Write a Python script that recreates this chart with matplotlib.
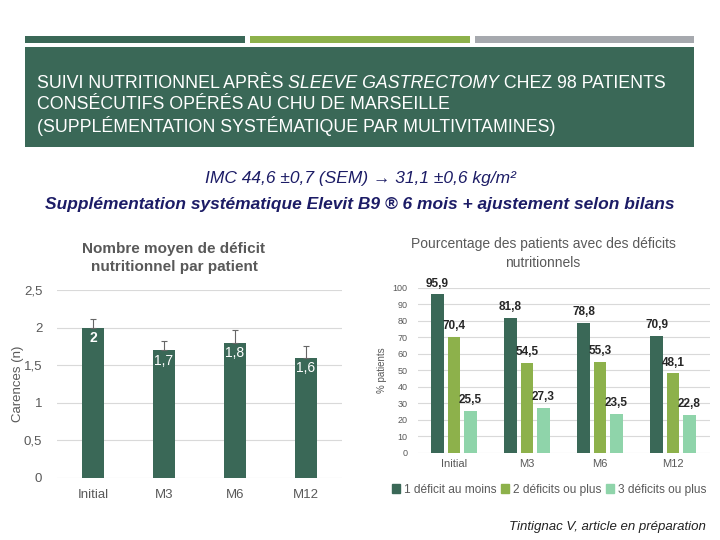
import matplotlib.pyplot as plt
from matplotlib.patches import Rectangle

plt.rcParams['font.family'] = ['Liberation Sans', 'DejaVu Sans']

# data
periods = ['Initial', 'M3', 'M6', 'M12']
mean_deficits = [2.0, 1.7, 1.8, 1.6]
mean_labels = ['2', '1,7', '1,8', '1,6']
mean_err_up = [0.12, 0.12, 0.17, 0.15]

series_names = ['1 déficit au moins', '2 déficits ou plus', '3 déficits ou plus']
pct_1 = [95.9, 81.8, 78.8, 70.9]
pct_2 = [70.4, 54.5, 55.3, 48.1]
pct_3 = [25.5, 27.3, 23.5, 22.8]

DARK = '#3a6857'
GREEN = '#8db14b'
MINT = '#8fd4aa'
GREY_BAR = '#a6a9ae'
NAVY = '#1c1c66'
TXT = '#595959'

fig = plt.figure(figsize=(7.2, 5.4), dpi=100)
W, H = 720, 540


def px_box(x0, y0, x1, y1):
    # pixel box (top-left origin) -> figure fraction rect
    return [x0 / W, 1 - y1 / H, (x1 - x0) / W, (y1 - y0) / H]


# top decorative strips and header box
bg = fig.add_axes([0, 0, 1, 1])
bg.set_xlim(0, W)
bg.set_ylim(H, 0)
bg.axis('off')
for x0, x1, c in [(25, 245, DARK), (250, 470, GREEN), (475, 694, GREY_BAR)]:
    bg.add_patch(Rectangle((x0, 36), x1 - x0, 7, color=c, lw=0))
bg.add_patch(Rectangle((25, 47), 669, 100, color=DARK, lw=0))

header_lines = [
    [('SUIVI NUTRITIONNEL APRÈS ', 'normal'), ('SLEEVE GASTRECTOMY', 'italic'),
     (' CHEZ 98 PATIENTS', 'normal')],
    [('CONSÉCUTIFS OPÉRÉS AU CHU DE MARSEILLE', 'normal')],
    [('(SUPPLÉMENTATION SYSTÉMATIQUE PAR MULTIVITAMINES)', 'normal')],
]
fig.canvas.draw()
renderer = fig.canvas.get_renderer()
for i, parts in enumerate(header_lines):
    x = 37
    y = 83 + i * 21.5
    for txt, style in parts:
        t = bg.text(x, y, txt, color='white', fontsize=12.8, style=style,
                    ha='left', va='center')
        bb = t.get_window_extent(renderer)
        x += bb.width

bg.text(360, 178, 'IMC 44,6 ±0,7 (SEM) → 31,1 ±0,6 kg/m²', color=NAVY,
        fontsize=12.5, style='italic', ha='center', va='center')
bg.text(360, 205, 'Supplémentation systématique Elevit B9 ® 6 mois + ajustement selon bilans',
        color=NAVY, fontsize=12.5, style='italic', weight='bold', ha='center', va='center')
bg.text(706, 527, 'Tintignac V, article en préparation', color='#222222',
        fontsize=9.5, style='italic', ha='right', va='center')

# left chart
ax1 = fig.add_axes(px_box(57.5, 290, 341.5, 478))
x = range(len(periods))
ax1.bar(x, mean_deficits, width=0.31, color=DARK, zorder=3)
ax1.errorbar(x, mean_deficits, yerr=[[0] * 4, mean_err_up], fmt='none',
             ecolor='#666666', elinewidth=0.8, capsize=2.5, capthick=0.8, zorder=4)
for xi, v, lab in zip(x, mean_deficits, mean_labels):
    ax1.text(xi, v - 0.05, lab, color='white', fontsize=10, ha='center', va='top',
             weight='bold' if lab == '2' else 'normal')
ax1.set_xlim(-0.5, 3.5)
ax1.set_ylim(0, 2.5)
ax1.set_yticks([0, 0.5, 1, 1.5, 2, 2.5])
ax1.set_yticklabels(['0', '0,5', '1', '1,5', '2', '2,5'])
ax1.set_xticks(list(x))
ax1.set_xticklabels(periods)
ax1.tick_params(length=0, labelsize=9.5, labelcolor=TXT, pad=8)
ax1.tick_params(axis='y', pad=11)
ax1.grid(axis='y', color='#d9d9d9', lw=0.8, zorder=0)
for s in ax1.spines.values():
    s.set_visible(False)
ax1.set_ylabel('Carences (n)', color=TXT, fontsize=9.5, labelpad=0)
ax1.set_title('Nombre moyen de déficit\nnutritionnel par patient', color=TXT,
              fontsize=11, weight='bold', pad=14, x=0.41, linespacing=1.3)

# right chart
ax2 = fig.add_axes(px_box(417.5, 287.7, 709.5, 453))
w = 0.175
off = 0.225
xs = list(range(len(periods)))
for vals, c, d in [(pct_1, DARK, -off), (pct_2, GREEN, 0), (pct_3, MINT, off)]:
    pos = [xi + d for xi in xs]
    ax2.bar(pos, vals, width=w, color=c, zorder=3)
    for p, v in zip(pos, vals):
        ax2.text(p, v + 3, f'{v:.1f}'.replace('.', ','), color='#262626', fontsize=8.5,
                 weight='bold', ha='center', va='bottom')
ax2.set_xlim(-0.5, 3.5)
ax2.set_ylim(0, 100)
ax2.set_yticks(range(0, 101, 10))
ax2.set_xticks(xs)
ax2.set_xticklabels(periods)
ax2.tick_params(axis='x', length=0, labelsize=8, labelcolor=TXT, pad=4)
ax2.tick_params(axis='y', length=0, labelsize=6.5, labelcolor=TXT, pad=7)
ax2.grid(axis='y', color='#d9d9d9', lw=0.8, zorder=0)
for s in ax2.spines.values():
    s.set_visible(False)
ax2.set_ylabel('% patients', color=TXT, fontsize=7, labelpad=4)
ax2.set_title('Pourcentage des patients avec des déficits\nnutritionnels', color=TXT,
              fontsize=10, pad=15, x=0.43, linespacing=1.45)
handles = [Rectangle((0, 0), 1, 1, color=c) for c in (DARK, GREEN, MINT)]
ax2.legend(handles, series_names, loc='upper center', bbox_to_anchor=(0.45, -0.12),
           ncol=3, frameon=False, fontsize=8.6, handlelength=0.7, handleheight=0.7,
           handletextpad=0.3, columnspacing=0.4, labelcolor=TXT)

fig.savefig('out.png', dpi=100)
